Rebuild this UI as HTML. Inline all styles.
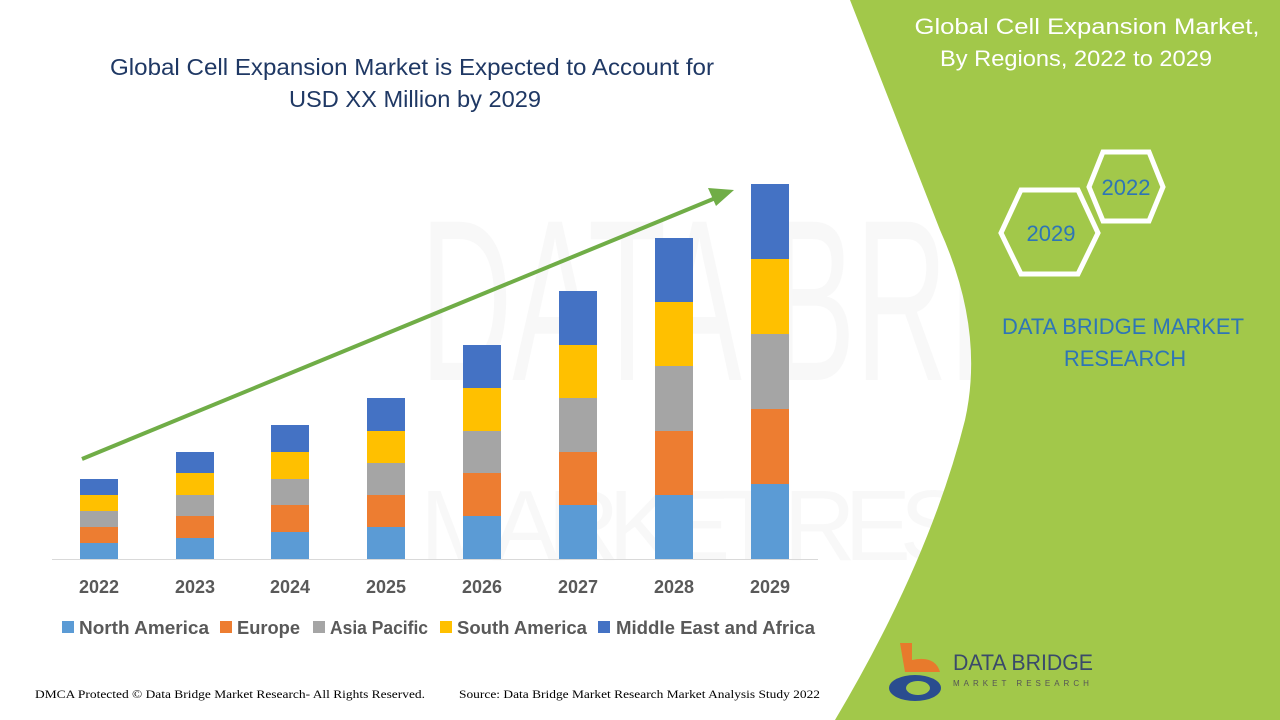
<!DOCTYPE html>
<html><head><meta charset="utf-8"><style>html,body{margin:0;padding:0;background:#fff}svg{display:block}</style></head>
<body>
<svg width="1280" height="720" viewBox="0 0 1280 720" xmlns="http://www.w3.org/2000/svg" font-family="Liberation Sans, sans-serif">
<rect width="1280" height="720" fill="#fff"/>
<g opacity="0.035">
<text x="420" y="380" font-size="230" fill="#555" textLength="840" lengthAdjust="spacingAndGlyphs">DATA BRIDGE</text>
<text x="420" y="560" font-size="100" fill="#555" textLength="840" lengthAdjust="spacing">MARKET RESEARCH</text>
</g>
<path d="M850 0 L1280 0 L1280 720 L835 720 Q930 560 965 420 Q985 330 940 230 Z" fill="#a2c84a"/>
<text x="1087" y="34" font-size="22" fill="#fff" text-anchor="middle" textLength="345" lengthAdjust="spacingAndGlyphs">Global Cell Expansion Market,</text>
<text x="1076" y="66" font-size="22" fill="#fff" text-anchor="middle" textLength="272" lengthAdjust="spacingAndGlyphs">By Regions, 2022 to 2029</text>
<polygon points="1103,152 1149,152 1163,187 1149,221 1103,221 1089,187" fill="none" stroke="#fff" stroke-width="5"/>
<polygon points="1021,190 1078,190 1098,233 1078,274 1021,274 1001,233" fill="none" stroke="#fff" stroke-width="5"/>
<text x="1126" y="195" font-size="22" fill="#2e75b6" text-anchor="middle">2022</text>
<text x="1051" y="241" font-size="22" fill="#2e75b6" text-anchor="middle">2029</text>
<text x="1123" y="334" font-size="22" fill="#2e75b6" text-anchor="middle" textLength="242" lengthAdjust="spacingAndGlyphs">DATA BRIDGE MARKET</text>
<text x="1125" y="366" font-size="22" fill="#2e75b6" text-anchor="middle">RESEARCH</text>
<path d="M900 643 L912 643 L912 660 Q935 655 940 672 L905 672 Z" fill="#e87a2c"/>
<ellipse cx="915" cy="688" rx="26" ry="13" fill="#2a4d8f"/>
<ellipse cx="918" cy="688" rx="12" ry="7" fill="#a2c84a"/>
<text x="953" y="670" font-size="22" fill="#3a4a6a" textLength="140" lengthAdjust="spacingAndGlyphs">DATA BRIDGE</text>
<text x="953" y="686" font-size="8" fill="#555" letter-spacing="4">MARKET RESEARCH</text>
<text x="412" y="75" font-size="23" fill="#1f3864" text-anchor="middle" textLength="604" lengthAdjust="spacingAndGlyphs">Global Cell Expansion Market is Expected to Account for</text>
<text x="415" y="107" font-size="23" fill="#1f3864" text-anchor="middle" textLength="252" lengthAdjust="spacingAndGlyphs">USD XX Million by 2029</text>
<g>
<rect x="80" y="543" width="38" height="16" fill="#5b9bd5"/><rect x="80" y="527" width="38" height="16" fill="#ed7d31"/><rect x="80" y="511" width="38" height="16" fill="#a5a5a5"/><rect x="80" y="495" width="38" height="16" fill="#ffc000"/><rect x="80" y="479" width="38" height="16" fill="#4472c4"/>
<rect x="176" y="538" width="38" height="21" fill="#5b9bd5"/><rect x="176" y="516" width="38" height="22" fill="#ed7d31"/><rect x="176" y="495" width="38" height="21" fill="#a5a5a5"/><rect x="176" y="473" width="38" height="22" fill="#ffc000"/><rect x="176" y="452" width="38" height="21" fill="#4472c4"/>
<rect x="271" y="532" width="38" height="27" fill="#5b9bd5"/><rect x="271" y="505" width="38" height="27" fill="#ed7d31"/><rect x="271" y="479" width="38" height="26" fill="#a5a5a5"/><rect x="271" y="452" width="38" height="27" fill="#ffc000"/><rect x="271" y="425" width="38" height="27" fill="#4472c4"/>
<rect x="367" y="527" width="38" height="32" fill="#5b9bd5"/><rect x="367" y="495" width="38" height="32" fill="#ed7d31"/><rect x="367" y="463" width="38" height="32" fill="#a5a5a5"/><rect x="367" y="431" width="38" height="32" fill="#ffc000"/><rect x="367" y="398" width="38" height="33" fill="#4472c4"/>
<rect x="463" y="516" width="38" height="43" fill="#5b9bd5"/><rect x="463" y="473" width="38" height="43" fill="#ed7d31"/><rect x="463" y="431" width="38" height="42" fill="#a5a5a5"/><rect x="463" y="388" width="38" height="43" fill="#ffc000"/><rect x="463" y="345" width="38" height="43" fill="#4472c4"/>
<rect x="559" y="505" width="38" height="54" fill="#5b9bd5"/><rect x="559" y="452" width="38" height="53" fill="#ed7d31"/><rect x="559" y="398" width="38" height="54" fill="#a5a5a5"/><rect x="559" y="345" width="38" height="53" fill="#ffc000"/><rect x="559" y="291" width="38" height="54" fill="#4472c4"/>
<rect x="655" y="495" width="38" height="64" fill="#5b9bd5"/><rect x="655" y="431" width="38" height="64" fill="#ed7d31"/><rect x="655" y="366" width="38" height="65" fill="#a5a5a5"/><rect x="655" y="302" width="38" height="64" fill="#ffc000"/><rect x="655" y="238" width="38" height="64" fill="#4472c4"/>
<rect x="751" y="484" width="38" height="75" fill="#5b9bd5"/><rect x="751" y="409" width="38" height="75" fill="#ed7d31"/><rect x="751" y="334" width="38" height="75" fill="#a5a5a5"/><rect x="751" y="259" width="38" height="75" fill="#ffc000"/><rect x="751" y="184" width="38" height="75" fill="#4472c4"/>
</g>
<line x1="52" y1="559.5" x2="818" y2="559.5" stroke="#d9d9d9" stroke-width="1"/>
<line x1="82" y1="459" x2="718" y2="197" stroke="#70ad47" stroke-width="4"/>
<polygon points="734,190 708,188 716,206" fill="#70ad47"/>
<g font-size="18" font-weight="bold" fill="#595959" text-anchor="middle">
<text x="99" y="593">2022</text><text x="195" y="593">2023</text><text x="290" y="593">2024</text><text x="386" y="593">2025</text><text x="482" y="593">2026</text><text x="578" y="593">2027</text><text x="674" y="593">2028</text><text x="770" y="593">2029</text>
</g>
<g font-size="18" font-weight="bold" fill="#595959">
<rect x="62" y="621" width="12" height="12" fill="#5b9bd5"/><text x="79" y="634" textLength="130" lengthAdjust="spacingAndGlyphs">North America</text>
<rect x="220" y="621" width="12" height="12" fill="#ed7d31"/><text x="237" y="634" textLength="63" lengthAdjust="spacingAndGlyphs">Europe</text>
<rect x="313" y="621" width="12" height="12" fill="#a5a5a5"/><text x="330" y="634" textLength="98" lengthAdjust="spacingAndGlyphs">Asia Pacific</text>
<rect x="440" y="621" width="12" height="12" fill="#ffc000"/><text x="457" y="634" textLength="130" lengthAdjust="spacingAndGlyphs">South America</text>
<rect x="598" y="621" width="12" height="12" fill="#4472c4"/><text x="616" y="634" textLength="199" lengthAdjust="spacingAndGlyphs">Middle East and Africa</text>
</g>
<text x="35" y="698" font-size="12" font-family="Liberation Serif, serif" fill="#000" textLength="390" lengthAdjust="spacingAndGlyphs">DMCA Protected © Data Bridge Market Research- All Rights Reserved.</text>
<text x="459" y="698" font-size="12" font-family="Liberation Serif, serif" fill="#000" textLength="361" lengthAdjust="spacingAndGlyphs">Source: Data Bridge Market Research Market Analysis Study 2022</text>
</svg>
</body></html>
